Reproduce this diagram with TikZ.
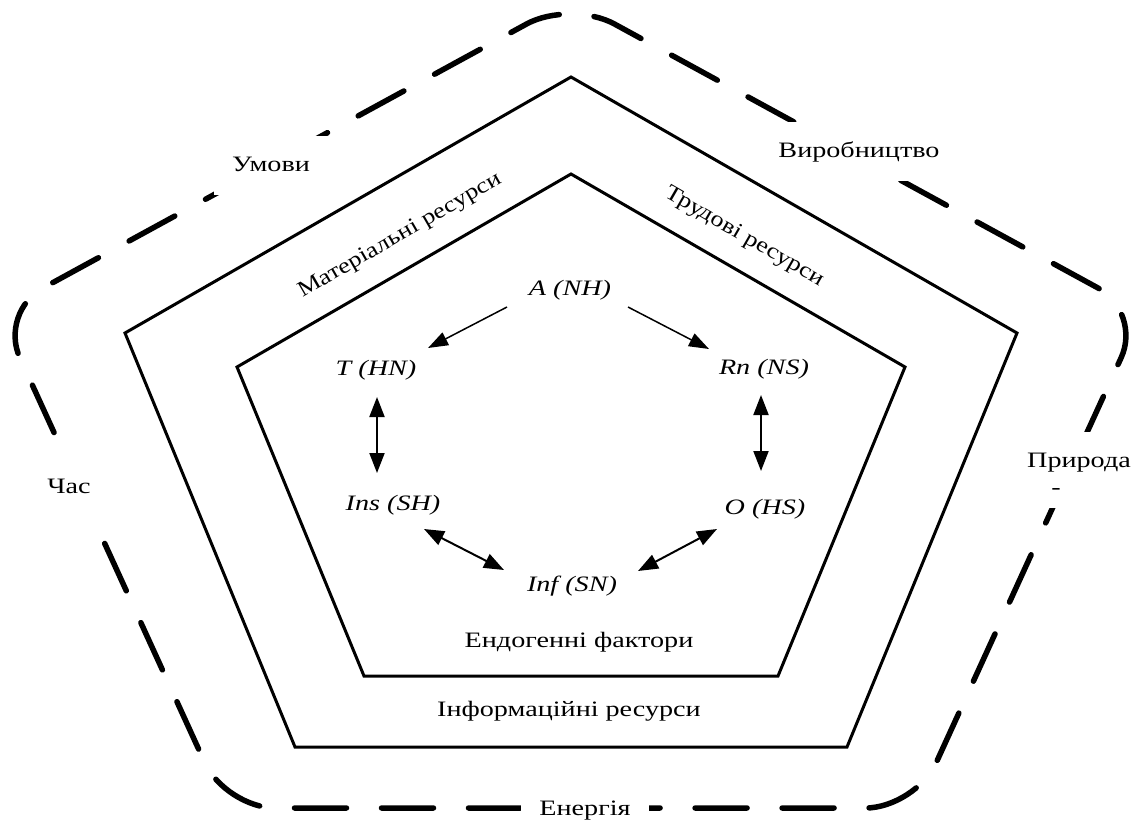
\documentclass[tikz,border=0pt]{standalone}
\usepackage{fontspec}
\setmainfont{Liberation Serif}[FakeStretch=1.28]
\newfontfamily\rotserif{Liberation Serif}[FakeStretch=1.19]
\usetikzlibrary{arrows.meta}

\begin{document}
\begin{tikzpicture}[x=1pt,y=-1pt,
  lbl/.style={font=\fontsize{22pt}{26pt}\selectfont, anchor=base, inner sep=0pt,
              text height=15pt, text depth=4pt},
  itlbl/.style={lbl, font=\fontsize{22pt}{26pt}\selectfont\itshape},
  ringlbl/.style={lbl, fill=white, inner xsep=18pt, inner ysep=20pt},
  rotlbl/.style={font=\rotserif\fontsize{22pt}{26pt}\selectfont, inner sep=0pt},
  ring/.style={line width=5.5pt, line cap=round, dash pattern=on 52pt off 35pt, rounded corners=50pt},
  frame/.style={line width=3pt, line join=miter},
  arr/.style={line width=1.5pt, -{Triangle[length=20pt,width=14pt]}},
  darr/.style={line width=2pt, {Triangle[length=20pt,width=15pt]}-{Triangle[length=20pt,width=15pt]}}]

\useasboundingbox (0,0) rectangle (1141,823);

% outer dashed boundary
\draw[ring] (570.5,808) -- (225.5,808) -- (-1,312) -- (570.5,0) -- (1142,312) -- (915.5,808) -- cycle;

% resource frame and inner core
\draw[frame] (571,77) -- (1017,333) -- (847,747) -- (295,747) -- (125,333) -- cycle;
\draw[frame] (571,174) -- (905,367) -- (778,676) -- (364,676) -- (237,367) -- cycle;

% external conditions on the dashed boundary
\node[ringlbl] (pryroda) at (1079,467) {Природа};
\node[ringlbl, text height=5pt, inner ysep=10pt, inner xsep=12pt] (dash) at (1056,494) {-};
\node[ringlbl] (umovy) at (271,171) {Умови};
\node[ringlbl] (vyrob) at (859,157) {Виробництво};
\node[ringlbl] (chas) at (69,493) {Час};
\node[ringlbl] (energy) at (585,815) {Енергія};

% resources between the pentagons
\node[rotlbl, rotate=30] (mat) at (400,236) {Матеріальні ресурси};
\node[rotlbl, rotate=-30] (trud) at (744,237) {Трудові ресурси};
\node[lbl] (info) at (569,716) {Інформаційні ресурси};
\node[lbl] (endo) at (579,647) {Ендогенні фактори};

% endogenous factors
\node[itlbl] (A) at (570,295) {A (NH)};
\node[itlbl] (T) at (376,375) {T (HN)};
\node[itlbl] (Rn) at (764,374) {Rn (NS)};
\node[itlbl] (Ins) at (393,510) {Ins (SH)};
\node[itlbl] (O) at (765,514) {O (HS)};
\node[itlbl] (Inf) at (572,591) {Inf (SN)};

\draw[arr] ([shift={(-63,12)}]A.base) -- ([shift={(52,-27)}]T.base);
\draw[arr] ([shift={(58,12)}]A.base) -- ([shift={(-55,-25)}]Rn.base);
\draw[darr] ([shift={(1,22)}]T.base) -- ([shift={(-16,-37)}]Ins.base);
\draw[darr] ([shift={(-3,21)}]Rn.base) -- ([shift={(-4,-43)}]O.base);
\draw[darr] ([shift={(31,19)}]Ins.base) -- ([shift={(-68,-21)}]Inf.base);
\draw[darr] ([shift={(-48,15)}]O.base) -- ([shift={(66,-20)}]Inf.base);

\end{tikzpicture}
\end{document}
